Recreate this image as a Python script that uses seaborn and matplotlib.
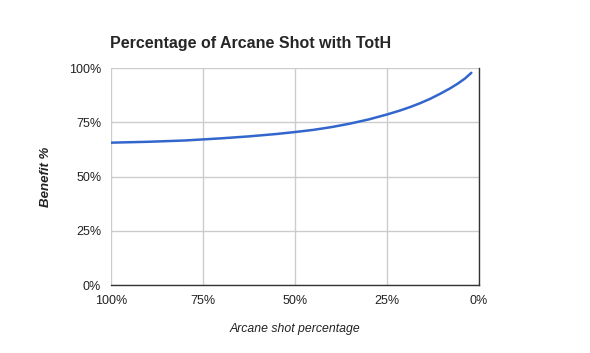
import pandas as pd
import seaborn as sns
import matplotlib.pyplot as plt
from matplotlib.ticker import PercentFormatter

sns.set_style('white')
plt.rcParams['font.family'] = ['Liberation Sans', 'DejaVu Sans']

# share of arcane shot (%) vs benefit (%)
arcane_pct = [100, 90, 80, 75, 70, 62.5, 55, 50, 45, 40, 35, 30, 25,
              21.5, 18.75, 16, 13.3, 10.5, 7.9, 5.8, 3.8, 2.1]
benefit_pct = [65.6, 66.0, 66.6, 67.1, 67.6, 68.5, 69.6, 70.5, 71.5, 72.8, 74.4, 76.3, 78.6,
               80.4, 82.0, 83.8, 85.8, 88.2, 90.6, 92.8, 95.2, 97.8]

df = pd.DataFrame({'arcane': arcane_pct, 'benefit': benefit_pct})

fig = plt.figure(figsize=(5.9, 3.53), dpi=100)
ax = fig.add_axes([0.188, 0.1926, 0.624, 0.6147])

sns.lineplot(data=df, x='arcane', y='benefit', color='#3366cc', linewidth=1.8, ax=ax)

ax.set_xlim(100, 0)
ax.set_ylim(0, 100)
ax.set_xticks([100, 75, 50, 25, 0])
ax.set_yticks([0, 25, 50, 75, 100])
ax.xaxis.set_major_formatter(PercentFormatter(decimals=0))
ax.yaxis.set_major_formatter(PercentFormatter(decimals=0))
ax.grid(True, color='#cccccc', linewidth=1)
ax.tick_params(length=0, labelsize=9, labelcolor='#222222', pad=7)

for side in ['top', 'left']:
    ax.spines[side].set_visible(False)
for side in ['bottom', 'right']:
    ax.spines[side].set_color('#333333')
    ax.spines[side].set_linewidth(1)

ax.set_xlabel('Arcane shot percentage', fontsize=8.8, style='italic', color='#222222', labelpad=12)
ax.set_ylabel('Benefit %', fontsize=9.5, style='italic', weight='bold', color='#222222', labelpad=12)

fig.text(0.187, 0.878, 'Percentage of Arcane Shot with TotH', fontsize=11.5, weight='bold', va='center')

plt.savefig('out.png', dpi=100)
